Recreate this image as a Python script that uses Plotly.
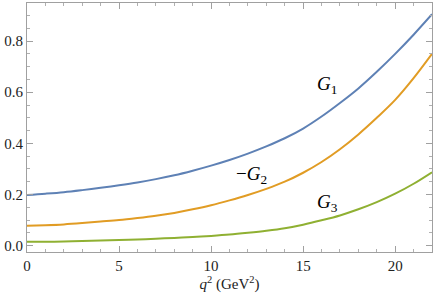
import plotly.graph_objects as go

q2 = list(range(0, 23))
G1 = [0.198, 0.203, 0.209, 0.217, 0.226, 0.236, 0.247, 0.260, 0.275, 0.293, 0.313, 0.335,
      0.360, 0.388, 0.420, 0.458, 0.505, 0.558, 0.615, 0.680, 0.750, 0.825, 0.905]
mG2 = [0.078, 0.080, 0.083, 0.088, 0.094, 0.100, 0.108, 0.117, 0.128, 0.142, 0.158, 0.177,
       0.198, 0.222, 0.250, 0.285, 0.327, 0.377, 0.435, 0.500, 0.570, 0.655, 0.750]
G3 = [0.015, 0.015, 0.016, 0.018, 0.020, 0.022, 0.024, 0.027, 0.030, 0.034, 0.038, 0.043,
      0.050, 0.058, 0.068, 0.082, 0.099, 0.118, 0.142, 0.170, 0.203, 0.242, 0.287]

colors = ["#5E81B5", "#E19C24", "#8FB032"]
series = [G1, mG2, G3]

fig = go.Figure()
for ys, c in zip(series, colors):
    fig.add_trace(go.Scatter(x=q2, y=ys, mode="lines",
                             line=dict(color=c, width=2, shape="spline", smoothing=1.0),
                             showlegend=False, hoverinfo="skip"))

serif = "Liberation Serif, Times New Roman, serif"
labels = [("<i>G</i><sub>1</sub>", 16.3, 0.63), ("−<i>G</i><sub>2</sub>", 12.2, 0.275), ("<i>G</i><sub>3</sub>", 16.3, 0.165)]
for t, x, y in labels:
    fig.add_annotation(x=x, y=y, text=t, showarrow=False, font=dict(family=serif, size=19, color="black"))

axcommon = dict(showline=True, linecolor="#a0a0a0", linewidth=1, mirror="ticks", ticks="inside",
                tickcolor="#a0a0a0", ticklen=6, showgrid=False, zeroline=False, automargin=False,
                tickfont=dict(family=serif, size=15, color="#222"))
fig.update_xaxes(range=[0, 22], dtick=5, tick0=0,
                 minor=dict(ticks="inside", dtick=1, ticklen=3, tickcolor="#b0b0b0"),
                 title=dict(text="<i>q</i><sup>2</sup> (GeV<sup>2</sup>)", font=dict(family=serif, size=15, color="#222"), standoff=3),
                 **axcommon)
fig.update_yaxes(range=[-0.025, 0.949], dtick=0.2, tick0=0, tickformat=".1f",
                 minor=dict(ticks="inside", dtick=0.05, ticklen=3, tickcolor="#b0b0b0"),
                 **axcommon)
fig.update_layout(width=436, height=296, margin=dict(l=27, r=4, t=3, b=44),
                  paper_bgcolor="white", plot_bgcolor="white")
fig.write_html("out.html", config={"displayModeBar": False},
               post_script="document.body.style.margin='0';document.body.style.overflow='hidden';")
